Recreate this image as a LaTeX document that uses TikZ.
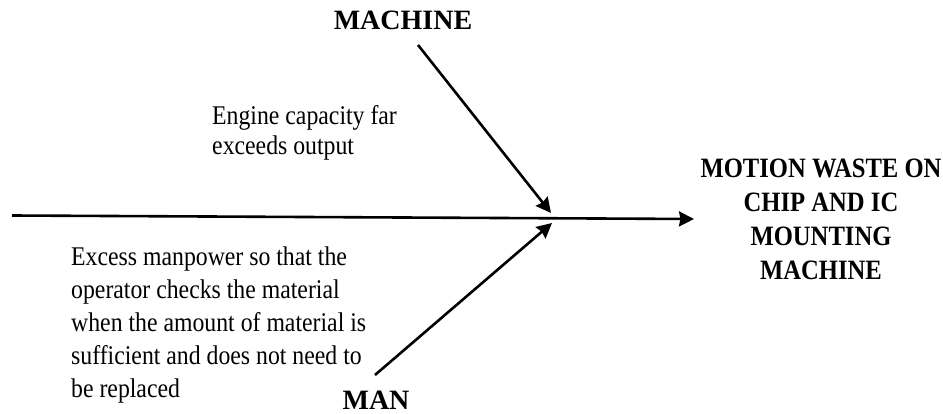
\documentclass[tikz,border=0pt]{standalone}
\usepackage{fontspec}
\setmainfont{Liberation Serif}
\newfontfamily\narrowserif{Liberation Serif}[FakeStretch=0.88]
\usetikzlibrary{arrows.meta,positioning}
\tikzset{
  bone/.style={line width=2.6pt, draw=black,
               -{Stealth[length=15pt,width=15pt,inset=1.5pt]}},
  causetxt/.style={align=left, inner sep=0pt, anchor=north west},
  catlabel/.style={inner sep=0pt, font=\fontsize{28}{33}\selectfont\bfseries},
  effecttxt/.style={align=center, inner sep=0pt, anchor=north,
                    font=\narrowserif\fontsize{28}{34}\selectfont\bfseries},
}
\begin{document}
\begin{tikzpicture}[x=1pt, y=-1pt]
\useasboundingbox (0,0) rectangle (943,414);
% spine and joints
\coordinate (tail) at (12,215.5);
\coordinate (head) at (694,219);
\coordinate (topstart) at (418,45);
\coordinate (topjoint) at (551,213);
\coordinate (botstart) at (375,375);
\coordinate (botjoint) at (552,223);
% labels
\node[catlabel] (machine) at (403,20) {MACHINE};
\node[catlabel] (man) at (376,400.5) {MAN};
\node[causetxt, font=\narrowserif\fontsize{27}{30}\selectfont] (engine) at (212,105)
  {Engine capacity far\\exceeds output};
\node[causetxt, font=\narrowserif\fontsize{27}{33}\selectfont] (excess) at (71,246.5)
  {Excess manpower so that the\\operator checks the material\\when the amount of material is\\sufficient and does not need to\\be replaced};
\node[effecttxt] (effect) at (821,158.5)
  {MOTION WASTE ON\\CHIP AND IC\\MOUNTING\\MACHINE};
% arrows
\draw[bone] (tail) -- (head);
\draw[bone] (topstart) -- (topjoint);
\draw[bone] (botstart) -- (botjoint);
\end{tikzpicture}
\end{document}
